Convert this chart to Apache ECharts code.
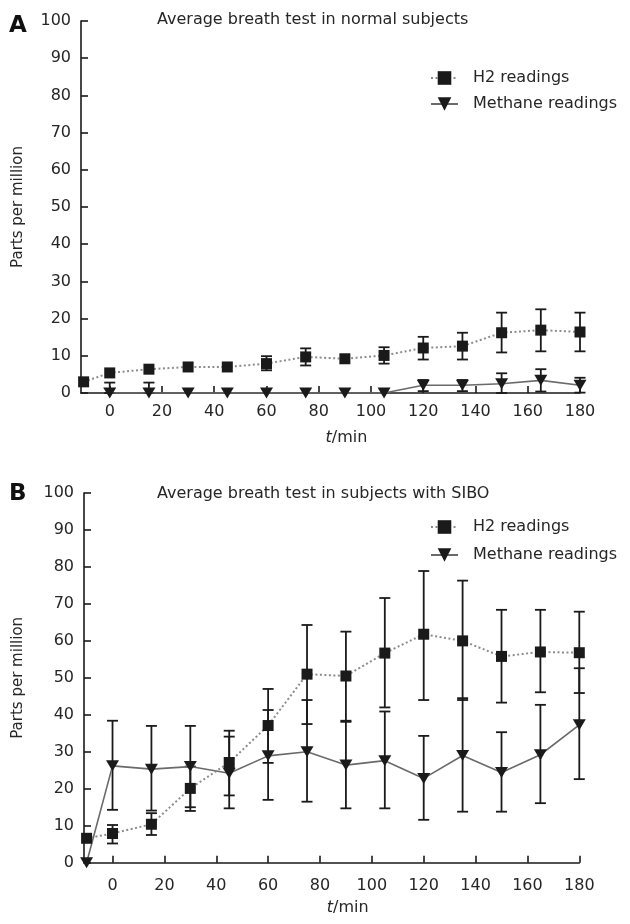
<!DOCTYPE html>
<html><head><meta charset="utf-8">
<script src="https://cdn.jsdelivr.net/npm/echarts@6/dist/echarts.min.js"></script>
<style>html,body{margin:0;padding:0;background:#fff}#c{width:630px;height:924px}</style>
</head><body><div id="c"></div>
<script>
// time points (min) and axis ticks
const times = [-10, 0, 15, 30, 45, 60, 75, 90, 105, 120, 135, 150, 165, 180];
const xTicks = [0, 20, 40, 60, 80, 100, 120, 140, 160, 180];

// Panel A: normal subjects
const aH2      = [3.0, 5.4, 6.4, 7.0, 7.0, 7.9, 9.7, 9.2, 10.1, 12.1, 12.6, 16.2, 16.9, 16.4];
const aH2Low   = [null, null, null, null, null, 6.1, 7.4, null, 7.9, 9.0, 9.0, 10.9, 11.2, 11.2];
const aH2High  = [null, null, null, null, null, 9.9, 12.0, null, 12.3, 15.1, 16.2, 21.6, 22.5, 21.6];
const aCH4     = [null, 0, 0, 0, 0, 0, 0, 0, 0, 2.1, 2.1, 2.5, 3.4, 2.1];
const aCH4Low  = [null, 0, 0, null, null, null, null, null, null, 0.5, 0.5, 0, 0.4, 0.1];
const aCH4High = [null, 2.8, 2.8, null, null, null, null, null, null, 3.5, 3.5, 5.3, 6.4, 4.1];

// Panel B: subjects with SIBO
const bH2      = [6.6, 7.9, 10.4, 20.1, 27.1, 37.1, 51.0, 50.5, 56.7, 61.8, 60.0, 55.8, 57.0, 56.8];
const bH2Low   = [null, 5.2, 7.5, 14.0, 18.2, 27.0, 37.5, 38.4, 42.0, 44.0, 44.0, 43.3, 46.1, 45.9];
const bH2High  = [null, 10.2, 13.4, 26.0, 35.7, 47.0, 64.3, 62.5, 71.6, 78.9, 76.3, 68.4, 68.4, 67.9];
const bCH4     = [0, 26.2, 25.3, 26.0, 24.2, 28.9, 30.0, 26.4, 27.6, 22.8, 29.0, 24.4, 29.2, 37.3];
const bCH4Low  = [null, 14.3, 14.1, 15.0, 14.7, 17.0, 16.5, 14.7, 14.7, 11.6, 13.8, 13.8, 16.1, 22.6];
const bCH4High = [null, 38.4, 37.0, 37.0, 34.1, 41.3, 44.0, 38.1, 40.9, 34.3, 44.5, 35.3, 42.7, 52.6];

const seriesNames = ['H2 readings', 'Methane readings'];
const titles = ['Average breath test in normal subjects', 'Average breath test in subjects with SIBO'];
const panelLetters = ['A', 'B'];
const yName = 'Parts per million';

const FONT = 'DejaVu Sans';
const TXT = '#262626';
const INK = '#1a1a1a';

function pairs(vals) {
  return times.map((t, i) => [t, vals[i]]).filter(d => d[1] != null);
}
function errData(lo, hi) {
  return times.map((t, i) => lo[i] == null ? null : [t, lo[i], hi[i]]).filter(d => d);
}
function errSeries(idx, lo, hi) {
  return {
    type: 'custom', xAxisIndex: idx, yAxisIndex: idx, z: 2, silent: true, clip: false,
    renderItem(params, api) {
      const x = api.value(0), l = api.value(1), h = api.value(2);
      const p1 = api.coord([x, l]), p2 = api.coord([x, h]);
      const w = 5.5;
      const style = { stroke: INK, lineWidth: 1.8 };
      return { type: 'group', children: [
        { type: 'line', shape: { x1: p1[0], y1: p1[1], x2: p2[0], y2: p2[1] }, style },
        { type: 'line', shape: { x1: p1[0] - w, y1: p1[1], x2: p1[0] + w, y2: p1[1] }, style },
        { type: 'line', shape: { x1: p2[0] - w, y1: p2[1], x2: p2[0] + w, y2: p2[1] }, style }
      ]};
    },
    encode: { x: 0, y: [1, 2] },
    data: errData(lo, hi)
  };
}
function h2Series(idx, vals) {
  return {
    name: seriesNames[0], type: 'line', xAxisIndex: idx, yAxisIndex: idx, z: 4,
    symbol: 'rect', symbolSize: 11, itemStyle: { color: INK },
    lineStyle: { color: '#8c8c8c', width: 2, type: [2, 2.5] },
    data: pairs(vals)
  };
}
function ch4Series(idx, vals) {
  return {
    name: seriesNames[1], type: 'line', xAxisIndex: idx, yAxisIndex: idx, z: 3,
    symbol: 'triangle', symbolRotate: 180, symbolSize: [13, 11], itemStyle: { color: INK },
    lineStyle: { color: '#6a6a6a', width: 1.6 },
    data: pairs(vals)
  };
}
function xAxis(idx, margin) {
  return {
    type: 'value', gridIndex: idx, min: -11, max: 180,
    axisLine: { onZero: false, lineStyle: { color: INK, width: 1.6 } },
    axisTick: { inside: true, length: 7, customValues: xTicks, lineStyle: { color: INK, width: 1.6 } },
    axisLabel: { customValues: xTicks, margin: margin, fontFamily: FONT, fontSize: 16, color: TXT },
    splitLine: { show: false },
    name: '{i|t}/min', nameLocation: 'middle', nameGap: 37,
    nameTextStyle: { fontFamily: FONT, fontSize: 16, color: TXT, padding: [0, 0, 0, 32],
      rich: { i: { fontStyle: 'italic', fontFamily: FONT, fontSize: 16, color: TXT } } }
  };
}
function yAxis(idx, gap) {
  return {
    type: 'value', gridIndex: idx, min: 0, max: 100, interval: 10,
    axisLine: { show: true, onZero: false, lineStyle: { color: INK, width: 1.6 } },
    axisTick: { show: true, inside: true, length: 7, lineStyle: { color: INK, width: 1.6 } },
    axisLabel: { margin: 10, fontFamily: FONT, fontSize: 16, color: TXT },
    splitLine: { show: false },
    name: yName, nameLocation: 'middle', nameGap: gap, nameRotate: 90,
    nameTextStyle: { fontFamily: FONT, fontSize: 15, color: TXT }
  };
}
function legend(top, gap) {
  return {
    orient: 'vertical', left: 430, top: top, itemWidth: 27, itemHeight: 17, itemGap: gap,
    data: seriesNames, padding: 0,
    textStyle: { fontFamily: FONT, fontSize: 16, color: TXT, lineHeight: 18, padding: [0, 0, 0, 10] }
  };
}

const option = {
  animation: false,
  backgroundColor: '#fff',
  title: [
    { text: titles[0], left: 157, top: 12, padding: 0, textStyle: { fontFamily: FONT, fontSize: 16, fontWeight: 'normal', color: TXT } },
    { text: titles[1], left: 157, top: 486, padding: 0, textStyle: { fontFamily: FONT, fontSize: 16, fontWeight: 'normal', color: TXT } }
  ],
  legend: [legend(69, 8), legend(518, 10)],
  grid: [
    { left: 81, right: 50, top: 21, bottom: 531 },
    { left: 84, right: 50.7, top: 493, bottom: 61.3 }
  ],
  xAxis: [xAxis(0, 11), xAxis(1, 15)],
  yAxis: [yAxis(0, 55), yAxis(1, 58)],
  graphic: [
    { type: 'text', left: 9, top: 15, style: { text: panelLetters[0], font: 'bold 23px "DejaVu Sans"', fill: '#111' } },
    { type: 'text', left: 9, top: 483, style: { text: panelLetters[1], font: 'bold 23px "DejaVu Sans"', fill: '#111' } }
  ],
  series: [
    errSeries(0, aH2Low, aH2High), errSeries(0, aCH4Low, aCH4High),
    h2Series(0, aH2), ch4Series(0, aCH4),
    errSeries(1, bH2Low, bH2High), errSeries(1, bCH4Low, bCH4High),
    h2Series(1, bH2), ch4Series(1, bCH4)
  ]
};
const chart = echarts.init(document.getElementById('c'), null, { renderer: 'canvas' });
chart.setOption(option);
</script>
</body></html>
